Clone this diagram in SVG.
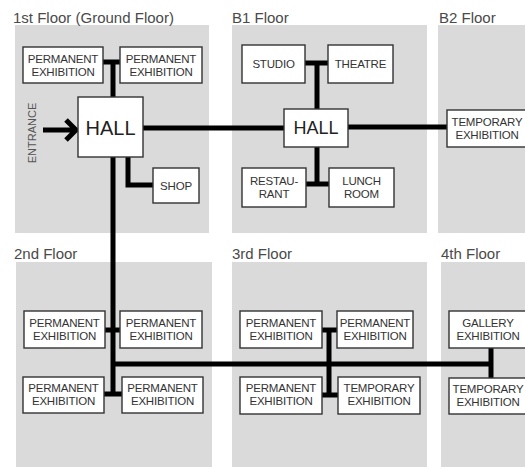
<svg xmlns="http://www.w3.org/2000/svg" width="525" height="467" viewBox="0 0 525 467">
<style>
.panel{fill:#dadada}
.title{font-family:"Liberation Sans",Arial,sans-serif;font-size:15px;fill:#4a4a4a}
.box{fill:#fff;stroke:#333;stroke-width:1.4}
.lbl{font-family:"Liberation Sans",Arial,sans-serif;font-size:11.5px;letter-spacing:-0.2px;fill:#333;text-anchor:middle}
.hall{font-family:"Liberation Sans",Arial,sans-serif;fill:#222;text-anchor:middle}
.conn{stroke:#000;stroke-width:5;fill:none;stroke-linejoin:miter}
</style>
<rect width="525" height="467" fill="#fff"/>
<g id="panels">
<rect class="panel" x="15" y="25" width="194" height="208"/>
<rect class="panel" x="232" y="25" width="195" height="208"/>
<rect class="panel" x="438" y="25" width="87" height="208"/>
<rect class="panel" x="16" y="262" width="196" height="205"/>
<rect class="panel" x="232" y="262" width="195" height="205"/>
<rect class="panel" x="441" y="262" width="84" height="205"/>
</g>
<g id="titles">
<text class="title" x="13" y="23">1st Floor (Ground Floor)</text>
<text class="title" x="232" y="23">B1 Floor</text>
<text class="title" x="439" y="23">B2 Floor</text>
<text class="title" x="14" y="259">2nd Floor</text>
<text class="title" x="232" y="259">3rd Floor</text>
<text class="title" x="441" y="259">4th Floor</text>
</g>
<g id="connectors">
<path class="conn" d="M143 128H284"/>
<path class="conn" d="M348 127H447"/>
<path class="conn" d="M113 97V62M103 62H120"/>
<path class="conn" d="M128 157V185H153"/>
<path class="conn" d="M113 157V395M105 330H120M104 394H122"/>
<path class="conn" d="M113 364H491"/>
<path class="conn" d="M317 109V63M305 63H328"/>
<path class="conn" d="M317 147V184M306 184H329"/>
<path class="conn" d="M329 330V395M322 330H337M322 395H338"/>
<path class="conn" d="M491 348V378"/>
<path class="conn" d="M43 130H74M66 120L76 130L66 140"/>
</g>
<g id="entrance">
<text class="lbl" transform="translate(36,133) rotate(-90)" style="fill:#555;font-size:11px;letter-spacing:0">ENTRANCE</text>
</g>
<g id="g-pe1"><rect class="box" x="23" y="47" width="80" height="36"/><text class="lbl" x="63" y="63">PERMANENT</text><text class="lbl" x="63" y="76">EXHIBITION</text></g>
<g id="g-pe2"><rect class="box" x="120" y="47" width="82" height="36"/><text class="lbl" x="161" y="63">PERMANENT</text><text class="lbl" x="161" y="76">EXHIBITION</text></g>
<g id="g-hall"><rect class="box" x="78" y="97" width="65" height="60"/><text class="hall" x="110.5" y="135" font-size="20">HALL</text></g>
<g id="g-shop"><rect class="box" x="153" y="168" width="46" height="35"/><text class="lbl" x="176" y="190">SHOP</text></g>
<g id="b1-studio"><rect class="box" x="242" y="45" width="63" height="38"/><text class="lbl" x="273.5" y="68">STUDIO</text></g>
<g id="b1-theatre"><rect class="box" x="328" y="45" width="65" height="38"/><text class="lbl" x="360.5" y="68">THEATRE</text></g>
<g id="b1-hall"><rect class="box" x="284" y="109" width="64" height="38"/><text class="hall" x="316" y="134" font-size="18">HALL</text></g>
<g id="b1-rest"><rect class="box" x="242" y="168" width="64" height="39"/><text class="lbl" x="274" y="185">RESTAU-</text><text class="lbl" x="274" y="198">RANT</text></g>
<g id="b1-lunch"><rect class="box" x="329" y="168" width="65" height="39"/><text class="lbl" x="361.5" y="185">LUNCH</text><text class="lbl" x="361.5" y="198">ROOM</text></g>
<g id="b2-temp"><rect class="box" x="447" y="110" width="80" height="37"/><text class="lbl" x="487" y="126">TEMPORARY</text><text class="lbl" x="487" y="139">EXHIBITION</text></g>
<g id="f2-pe1"><rect class="box" x="24" y="311" width="81" height="37"/><text class="lbl" x="64.5" y="327">PERMANENT</text><text class="lbl" x="64.5" y="340">EXHIBITION</text></g>
<g id="f2-pe2"><rect class="box" x="120" y="311" width="82" height="37"/><text class="lbl" x="161" y="327">PERMANENT</text><text class="lbl" x="161" y="340">EXHIBITION</text></g>
<g id="f2-pe3"><rect class="box" x="23" y="377" width="81" height="36"/><text class="lbl" x="63.5" y="392">PERMANENT</text><text class="lbl" x="63.5" y="405">EXHIBITION</text></g>
<g id="f2-pe4"><rect class="box" x="122" y="377" width="81" height="36"/><text class="lbl" x="162.5" y="392">PERMANENT</text><text class="lbl" x="162.5" y="405">EXHIBITION</text></g>
<g id="f3-pe1"><rect class="box" x="240" y="311" width="82" height="37"/><text class="lbl" x="281" y="327">PERMANENT</text><text class="lbl" x="281" y="340">EXHIBITION</text></g>
<g id="f3-pe2"><rect class="box" x="337" y="311" width="76" height="37"/><text class="lbl" x="375" y="327">PERMANENT</text><text class="lbl" x="375" y="340">EXHIBITION</text></g>
<g id="f3-pe3"><rect class="box" x="240" y="377" width="82" height="37"/><text class="lbl" x="281" y="392">PERMANENT</text><text class="lbl" x="281" y="405">EXHIBITION</text></g>
<g id="f3-temp"><rect class="box" x="338" y="377" width="82" height="37"/><text class="lbl" x="379" y="392">TEMPORARY</text><text class="lbl" x="379" y="405">EXHIBITION</text></g>
<g id="f4-gallery"><rect class="box" x="449" y="311" width="78" height="37"/><text class="lbl" x="488" y="327">GALLERY</text><text class="lbl" x="488" y="340">EXHIBITION</text></g>
<g id="f4-temp"><rect class="box" x="449" y="378" width="78" height="36"/><text class="lbl" x="488" y="393">TEMPORARY</text><text class="lbl" x="488" y="406">EXHIBITION</text></g>
</svg>
